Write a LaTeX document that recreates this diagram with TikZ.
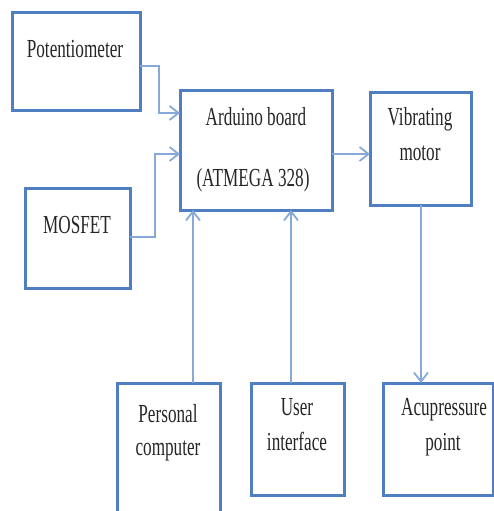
\documentclass[tikz,border=0pt]{standalone}
\usepackage{fontspec}
\newfontfamily\tnr[FakeStretch=0.66]{Liberation Serif}
\usetikzlibrary{arrows.meta}
\definecolor{boxblue}{HTML}{4F7FC0}
\definecolor{lineblue}{HTML}{86A9D8}
\begin{document}
\begin{tikzpicture}[x=1pt,y=-1pt,
  box/.style={draw=boxblue,line width=3pt,rectangle,inner sep=0pt,outer sep=0pt},
  txt/.style={anchor=base,inner sep=0pt,font=\tnr\fontsize{26}{30}\selectfont,text=black!85},
  conn/.style={draw=lineblue,line width=2pt,-{Straight Barb[length=9pt,width=14pt,line width=1.8pt]}},
  plain/.style={draw=lineblue,line width=2pt}]
\useasboundingbox (0,0) rectangle (494,511);
\begin{scope}
\clip (0,0) rectangle (494,511);
% boxes
\node[box,minimum width=128pt,minimum height=97pt] (pot) at (76,61.5) {};
\node[box,minimum width=105pt,minimum height=100pt] (mos) at (77.5,238) {};
\node[box,minimum width=152pt,minimum height=120pt] (ard) at (256,150) {};
\node[box,minimum width=101pt,minimum height=113pt] (vib) at (420.5,148.5) {};
\node[box,minimum width=103pt,minimum height=140pt] (pc) at (168.5,453) {};
\node[box,minimum width=93pt,minimum height=112pt] (ui) at (297.5,439) {};
\node[box,minimum width=110pt,minimum height=112pt] (acu) at (438,439) {};
% texts
\node[txt] (tpot) at (75,58) {Potentiometer};
\node[txt] (tmos) at (77,233) {MOSFET};
\node[txt] (tard1) at (256,125) {Arduino board};
\node[txt] (tard2) at (253,186) {(ATMEGA 328)};
\node[txt] (tvib1) at (420,125) {Vibrating};
\node[txt] (tvib2) at (420,160) {motor};
\node[txt] (tpc1) at (168,422) {Personal};
\node[txt] (tpc2) at (168,455) {computer};
\node[txt] (tui1) at (297,415) {User};
\node[txt] (tui2) at (297,450) {interface};
\node[txt] (tacu1) at (444,415) {Acupressure};
\node[txt] (tacu2) at (443,450) {point};
% connectors
\coordinate (p1) at (159,66);
\coordinate (p2) at (159,113);
\draw[conn] (pot.east |- p1) -- (p1) -- (p2) -- (ard.west |- p2);
\coordinate (m1) at (155,237);
\coordinate (m2) at (155,154);
\draw[conn] (mos.east |- m1) -- (m1) -- (m2) -- (ard.west |- m2);
\coordinate (a1) at (332,154);
\draw[conn] (ard.east |- a1) -- (vib.west |- a1);
\coordinate (c1) at (193,300);
\draw[conn] (pc.north -| c1) -- (ard.south -| c1);
\coordinate (u1) at (291,300);
\draw[conn] (ui.north -| u1) -- (ard.south -| u1);
\coordinate (v1) at (421,300);
\draw[conn] (vib.south -| v1) -- (acu.north -| v1);
\end{scope}
\end{tikzpicture}
\end{document}
